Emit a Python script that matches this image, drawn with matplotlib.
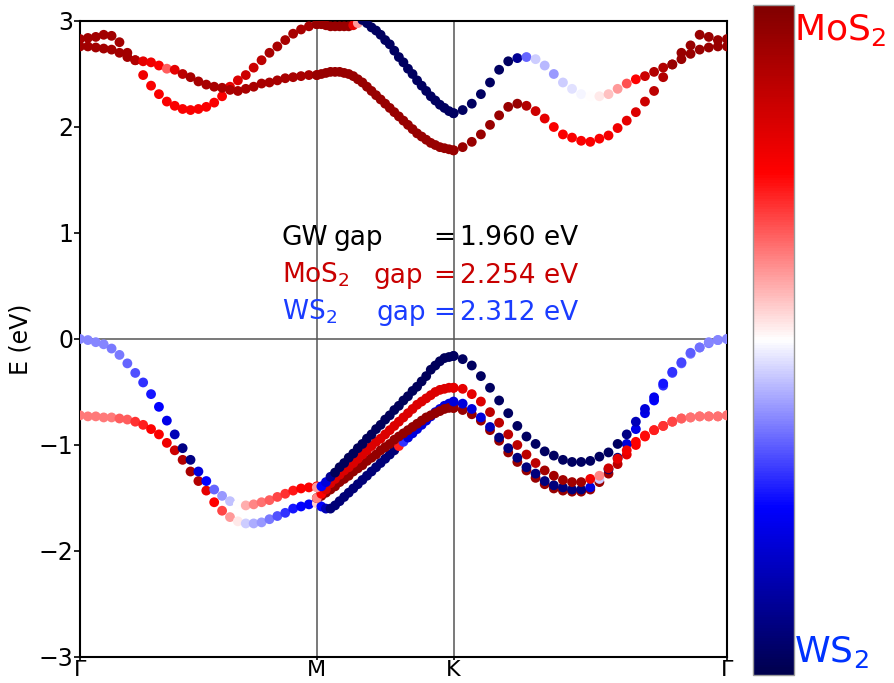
import numpy as np
import matplotlib
matplotlib.use("Agg")
import matplotlib.pyplot as plt
from matplotlib.cm import ScalarMappable
from matplotlib.colors import Normalize

# ---------------- data (energies in eV, weight: 0 = WS2, 1 = MoS2) ----------------
tick_labels = ["Γ", "M", "K", "Γ"]
seg_len = [1.0, 1 / np.sqrt(3), 2 / np.sqrt(3)]
npts = 31

# Gamma -> M
gm_cb_a = [2.83, 2.84, 2.85, 2.87, 2.86, 2.80, 2.70, 2.63, 2.49, 2.39, 2.31, 2.24, 2.20, 2.17, 2.16, 2.17,
           2.19, 2.23, 2.29, 2.38, 2.44, 2.49, 2.56, 2.63, 2.70, 2.76, 2.82, 2.88, 2.92, 2.95, 2.97]
gm_cb_a_w = [0.93] * 8 + [0.78, 0.76, 0.76, 0.76, 0.76, 0.76, 0.76, 0.76, 0.76, 0.76, 0.76, 0.8, 0.82, 0.85,
                          0.85, 0.88, 0.92, 0.92, 0.92, 0.92, 0.92, 0.92, 0.92]
gm_cb_b = [2.76, 2.76, 2.75, 2.74, 2.73, 2.70, 2.66, 2.63, 2.62, 2.61, 2.58, 2.55, 2.54, 2.50, 2.47, 2.43,
           2.40, 2.38, 2.37, 2.35, 2.34, 2.36, 2.38, 2.41, 2.42, 2.44, 2.46, 2.47, 2.48, 2.49, 2.49]
gm_cb_b_w = [0.93] * 7 + [0.9, 0.8, 0.78, 0.76, 0.66, 0.8, 0.88] + [0.92] * 17
gm_vb_1 = [0.0, -0.01, -0.03, -0.05, -0.09, -0.15, -0.23, -0.32, -0.41, -0.52, -0.64, -0.77, -0.90, -1.03,
           -1.14, -1.25, -1.34, -1.42, -1.48, -1.53, -1.56, -1.57, -1.56, -1.54, -1.52, -1.49, -1.46, -1.43,
           -1.41, -1.40, -1.39]
gm_vb_1_w = [0.38, 0.38, 0.38, 0.38, 0.37, 0.37, 0.35, 0.33, 0.3, 0.27, 0.25, 0.22, 0.15, 0.08, 0.08, 0.2,
             0.25, 0.35, 0.4, 0.44, 0.5, 0.58, 0.62, 0.64, 0.66, 0.68, 0.7, 0.73, 0.75, 0.76, 0.78]
gm_vb_2 = [-0.72, -0.73, -0.73, -0.74, -0.74, -0.75, -0.76, -0.78, -0.81, -0.85, -0.90, -0.98, -1.05, -1.14,
           -1.25, -1.34, -1.43, -1.54, -1.62, -1.68, -1.72, -1.74, -1.74, -1.73, -1.70, -1.67, -1.64, -1.60,
           -1.58, -1.56, -1.54]
gm_vb_2_w = [0.63, 0.63, 0.63, 0.63, 0.63, 0.66, 0.66, 0.7, 0.72, 0.75, 0.76, 0.78, 0.85, 0.9, 0.92, 0.9,
             0.8, 0.75, 0.68, 0.6, 0.52, 0.45, 0.42, 0.4, 0.37, 0.33, 0.3, 0.27, 0.25, 0.24, 0.22]

# M -> K
nan = float("nan")
mk_cb_a = [2.97, 2.97, 2.96, 2.95, 2.95, 2.95, 2.95, 2.95, 2.96, 2.98] + [nan] * 21
mk_cb_a_w = [0.95] * 8 + [0.8, 0.6] + [0.95] * 21
mk_cb_w = [nan] * 10 + [3.01, 2.98, 2.94, 2.91, 2.87, 2.82, 2.78, 2.72, 2.66, 2.61, 2.55, 2.50, 2.44, 2.39,
                        2.34, 2.29, 2.25, 2.21, 2.18, 2.15, 2.13]
mk_cb_w_w = [0.03] * 31
mk_cb_b = [2.49, 2.50, 2.51, 2.52, 2.52, 2.52, 2.51, 2.50, 2.48, 2.45, 2.42, 2.38, 2.34, 2.30, 2.26, 2.22,
           2.18, 2.14, 2.10, 2.06, 2.02, 1.98, 1.94, 1.91, 1.88, 1.85, 1.83, 1.81, 1.80, 1.79, 1.78]
mk_cb_b_w = [0.95] * 31
mk_vb_1 = [-1.40, -1.39, -1.35, -1.30, -1.26, -1.21, -1.17, -1.12, -1.08, -1.03, -0.99, -0.94, -0.90, -0.85,
           -0.81, -0.76, -0.72, -0.67, -0.63, -0.58, -0.54, -0.49, -0.45, -0.40, -0.35, -0.29, -0.25, -0.21,
           -0.18, -0.17, -0.16]
mk_vb_1_w = [0.6, 0.25, 0.2, 0.1] + [0.02] * 27
mk_vb_2 = [-1.50, -1.46, -1.42, -1.36, -1.32, -1.28, -1.24, -1.21, -1.17, -1.13, -1.09, -1.05, -1.01, -0.97,
           -0.94, -0.90, -0.86, -0.82, -0.78, -0.74, -0.70, -0.66, -0.62, -0.59, -0.56, -0.53, -0.50, -0.48,
           -0.47, -0.46, -0.46]
mk_vb_2_w = [0.62, 0.75] + [0.82] * 29
mk_vb_3 = [-1.55, -1.58, -1.60, -1.60, -1.57, -1.53, -1.49, -1.45, -1.41, -1.37, -1.33, -1.29, -1.25, -1.21,
           -1.17, -1.13, -1.09, -1.05, -1.01, -0.97, -0.93, -0.89, -0.85, -0.81, -0.77, -0.73, -0.69, -0.66,
           -0.63, -0.61, -0.60]
mk_vb_3_w = [0.55, 0.25, 0.15] + [0.06] * 15 + [0.72, 0.3] + [0.2] * 11
mk_vb_4 = [-1.50, -1.48, -1.45, -1.42, -1.39, -1.35, -1.32, -1.29, -1.25, -1.22, -1.19, -1.15, -1.12, -1.09,
           -1.05, -1.02, -0.99, -0.95, -0.92, -0.89, -0.86, -0.83, -0.80, -0.77, -0.74, -0.72, -0.70, -0.68,
           -0.66, -0.65, -0.65]
mk_vb_4_w = [0.96] * 31

# K -> Gamma
kg_cb_1 = [2.13, 2.16, 2.22, 2.31, 2.42, 2.54, 2.62, 2.65, 2.66, 2.64, 2.58, 2.50, 2.42, 2.36, 2.31, 2.29,
           2.29, 2.31, 2.36, 2.41, 2.45, 2.48, 2.52, 2.56, 2.59, 2.64, 2.69, 2.73, 2.75, 2.76, 2.76]
kg_cb_1_w = [0.03] * 7 + [0.1, 0.35, 0.45, 0.43, 0.4, 0.45, 0.47, 0.49, 0.5, 0.52, 0.56, 0.6, 0.67, 0.75,
                          0.85, 0.9, 0.9, 0.95, 0.95, 0.95, 0.95, 0.95, 0.95, 0.95]
kg_cb_2 = [1.78, 1.81, 1.86, 1.93, 2.02, 2.11, 2.19, 2.22, 2.20, 2.15, 2.08, 2.00, 1.93, 1.90, 1.87, 1.86,
           1.89, 1.92, 1.99, 2.06, 2.14, 2.24, 2.34, 2.47, 2.59, 2.70, 2.77, 2.87, 2.85, 2.82, 2.83]
kg_cb_2_w = [0.95] * 8 + [0.9, 0.85, 0.8, 0.76, 0.76, 0.76, 0.76, 0.76, 0.76, 0.77, 0.78, 0.8, 0.82, 0.85,
                          0.88, 0.9, 0.95, 0.95, 0.95, 0.95, 0.95, 0.95, 0.95]
kg_vb_1 = [-0.16, -0.19, -0.25, -0.35, -0.46, -0.58, -0.70, -0.82, -0.92, -0.99, -1.06, -1.10, -1.14, -1.16,
           -1.16, -1.15, -1.11, -1.07, -0.99, -0.90, -0.78, -0.66, -0.55, -0.42, -0.31, -0.22, -0.13, -0.08,
           -0.03, -0.01, 0.0]
kg_vb_1_w = [0.03] * 19 + [0.08, 0.15, 0.2, 0.23, 0.27, 0.3, 0.32, 0.34, 0.36, 0.38, 0.38, 0.38]
kg_vb_2 = [-0.46, -0.47, -0.52, -0.59, -0.69, -0.79, -0.90, -1.00, -1.09, -1.17, -1.24, -1.29, -1.33, -1.35,
           -1.35, -1.32, -1.29, -1.22, -1.13, -1.05, -0.97, -0.91, -0.86, -0.82, -0.78, -0.75, -0.74, -0.73,
           -0.73, -0.73, -0.72]
kg_vb_2_w = [0.8, 0.8, 0.8, 0.82, 0.88, 0.88, 0.88, 0.88, 0.88, 0.88, 0.93, 0.93, 0.93, 0.93, 0.93, 0.77,
             0.62, 0.85, 0.8, 0.77, 0.75, 0.74, 0.72, 0.7, 0.68, 0.66, 0.64, 0.64, 0.64, 0.64, 0.64]
kg_vb_3 = [-0.59, -0.61, -0.66, -0.74, -0.83, -0.93, -1.03, -1.12, -1.21, -1.27, -1.34, -1.38, -1.40, -1.42,
           -1.42, -1.40, -1.32, -1.23, -1.12, -0.99, -0.85, -0.70, -0.58, -0.44, -0.32, -0.23, -0.14, -0.08,
           -0.04, -0.01, 0.0]
kg_vb_3_w = [0.2, 0.2, 0.2, 0.2, 0.15] + [0.07] * 10 + [0.2, 0.45, 0.05, 0.07, 0.2, 0.22, 0.22, 0.25, 0.3,
                                                        0.32, 0.34, 0.37, 0.37, 0.37, 0.37, 0.37]
kg_vb_4 = [-0.65, -0.67, -0.71, -0.77, -0.86, -0.96, -1.07, -1.16, -1.24, -1.31, -1.37, -1.41, -1.43, -1.44,
           -1.44, -1.42, -1.35, -1.27, -1.18, -1.09, -1.00, -0.92, -0.86, -0.82, -0.78, -0.75, -0.74, -0.73,
           -0.73, -0.73, -0.72]
kg_vb_4_w = [0.95] * 17 + [0.93, 0.88, 0.8, 0.76, 0.74, 0.72, 0.7, 0.68, 0.66, 0.64, 0.64, 0.64, 0.64, 0.64]

gap_labels = ["GW", "MoS$_2$", "WS$_2$"]
gap_values = [1.960, 2.254, 2.312]

# ---------------- figure ----------------
fig = plt.figure(figsize=(8.94, 6.83), dpi=100)
ax = fig.add_axes([80 / 894, 26 / 683, 647 / 894, 636 / 683])

edges = np.concatenate([[0], np.cumsum(seg_len)])
k_seg = [np.linspace(edges[i], edges[i + 1], npts) for i in range(3)]

segments = [
    [(gm_cb_a, gm_cb_a_w), (gm_cb_b, gm_cb_b_w), (gm_vb_2, gm_vb_2_w), (gm_vb_1, gm_vb_1_w)],
    [(mk_cb_a, mk_cb_a_w), (mk_cb_w, mk_cb_w_w), (mk_cb_b, mk_cb_b_w), (mk_vb_3, mk_vb_3_w),
     (mk_vb_4, mk_vb_4_w), (mk_vb_2, mk_vb_2_w), (mk_vb_1, mk_vb_1_w)],
    [(kg_cb_1, kg_cb_1_w), (kg_cb_2, kg_cb_2_w), (kg_vb_4, kg_vb_4_w), (kg_vb_3, kg_vb_3_w),
     (kg_vb_2, kg_vb_2_w), (kg_vb_1, kg_vb_1_w)],
]

cmap = plt.get_cmap("seismic")
norm = Normalize(0, 1)
for kk, bands in zip(k_seg, segments):
    for e, w in bands:
        ax.scatter(kk, e, c=w, cmap=cmap, norm=norm, s=50, linewidths=0, zorder=3)

for x in edges[1:-1]:
    ax.axvline(x, color="#555555", lw=1.1, zorder=1)
ax.axhline(0, color="#555555", lw=1.1, zorder=1)

ax.set_xlim(edges[0], edges[-1])
ax.set_ylim(-3, 3)
ax.set_xticks(edges)
ax.set_xticklabels(tick_labels)
ax.set_yticks([-3, -2, -1, 0, 1, 2, 3])
ax.tick_params(axis="y", labelsize=17, length=4, width=1.2, pad=1)
ax.tick_params(axis="x", labelsize=16, length=2, width=1.2, pad=0)
ax.set_ylabel("E (eV)", fontsize=17, labelpad=4)
for sp in ax.spines.values():
    sp.set_linewidth(1.5)

# gap annotation
line_colors = ["black", "#c80000", "#1a3cff"]
line_y = [0.887, 0.53, 0.18]
gap_x = [0.392, 0.453, 0.459]
for lab, val, col, y, gx in zip(gap_labels, gap_values, line_colors, line_y, gap_x):
    ax.text(0.312, y, lab, transform=ax.get_yaxis_transform(), color=col, fontsize=19, va="baseline")
    ax.text(gx, y, "gap", transform=ax.get_yaxis_transform(), color=col, fontsize=19, va="baseline")
    ax.text(0.546, y, "=", transform=ax.get_yaxis_transform(), color=col, fontsize=19, va="baseline")
    ax.text(0.588, y, f"{val:.3f} eV", transform=ax.get_yaxis_transform(), color=col, fontsize=19,
            va="baseline")

# colorbar
cax = fig.add_axes([753 / 894, 8 / 683, 41 / 894, 670 / 683])
cb = fig.colorbar(ScalarMappable(norm=norm, cmap=cmap), cax=cax)
cb.set_ticks([])
cb.outline.set_edgecolor("#999999")
cb.outline.set_linewidth(1.0)
fig.text(794 / 894, 1 - 30 / 683, "MoS$_2$", color="#ff0000", fontsize=26, va="center", ha="left")
fig.text(794 / 894, 1 - 652 / 683, "WS$_2$", color="#0033ff", fontsize=26, va="center", ha="left")

fig.savefig("out.png", dpi=100)
